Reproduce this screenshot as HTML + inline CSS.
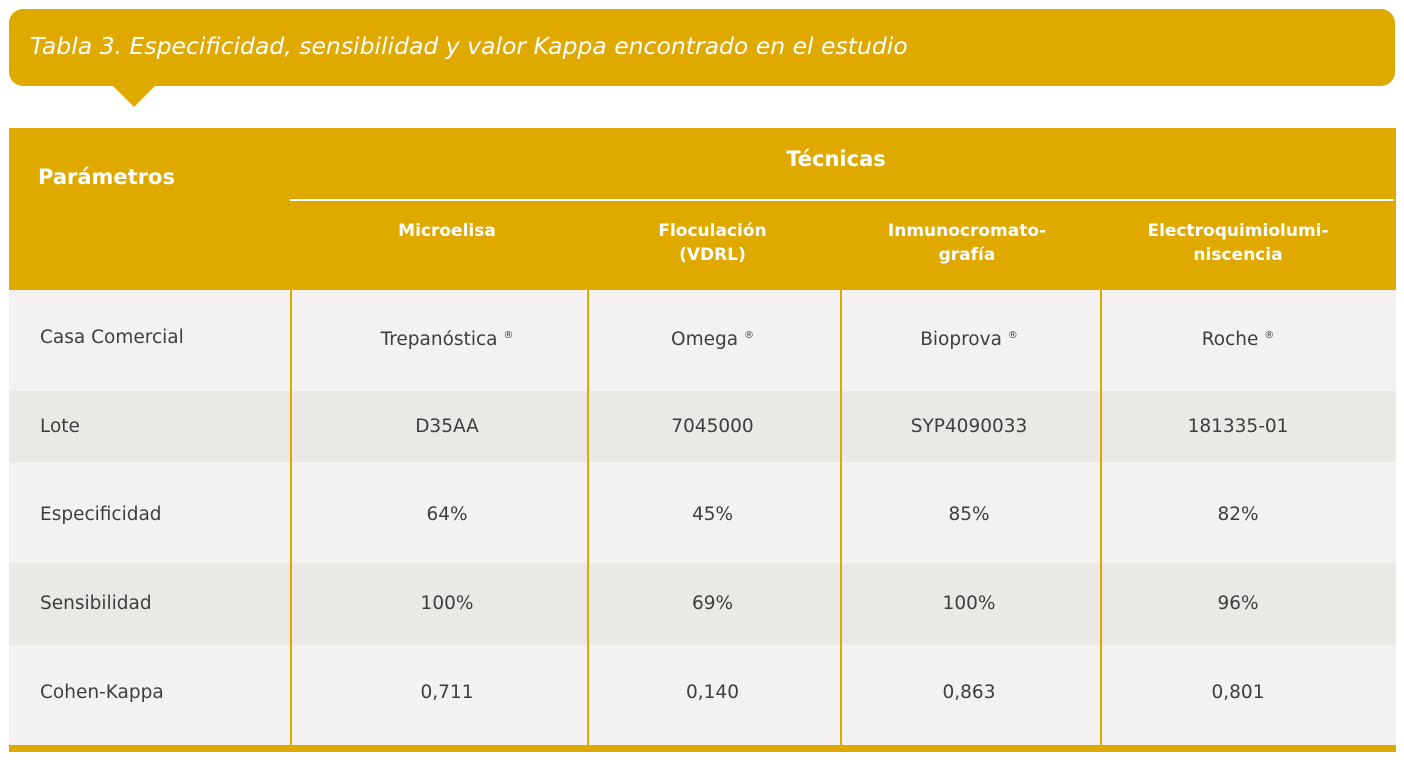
<!DOCTYPE html>
<html><head><meta charset="utf-8"><style>
body{margin:0;width:1404px;height:764px;background:#fff;position:relative;overflow:hidden;font-family:"DejaVu Sans","Liberation Sans",sans-serif;}
.a{position:absolute}
.t{position:absolute;color:#3e3e3e;font-size:18.5px;text-align:center;transform:translateY(-50%);line-height:24px}
.h{position:absolute;color:#fff;font-weight:bold;font-size:17px;text-align:center;line-height:24px;transform:translateY(-50%)}
.v{position:absolute;width:2px;background:#dfa900;top:290px;height:456px}
</style></head><body>
<div class="a" style="left:9px;top:9px;width:1386px;height:77px;background:#dfa900;border-radius:14px"></div>
<div class="a" style="left:113px;top:86px;width:0;height:0;border-left:21px solid transparent;border-right:21px solid transparent;border-top:21px solid #dfa900"></div>
<div class="a" style="left:30px;top:31px;color:#fff;font-style:italic;font-size:23.5px;line-height:30px">Tabla 3. Especificidad, sensibilidad y valor Kappa encontrado en el estudio</div>
<div class="a" style="left:9px;top:128px;width:1387px;height:162px;background:#dfa900"></div>
<div class="a" style="left:290px;top:199px;width:1104px;height:2px;background:#fff"></div>
<div class="h" style="left:38px;top:177px;font-size:21px;text-align:left">Parámetros</div>
<div class="h" style="left:291px;width:1090px;top:159px;font-size:21px">Técnicas</div>
<div class="h" style="left:297px;width:300px;top:231px">Microelisa</div>
<div class="h" style="left:588px;width:249px;top:243px">Floculación<br>(VDRL)</div>
<div class="h" style="left:841px;width:252px;top:243px">Inmunocromato-<br>grafía</div>
<div class="h" style="left:1101px;width:274px;top:243px">Electroquimiolumi-<br>niscencia</div>
<div class="a" style="left:9px;top:290px;width:1387px;height:101px;background:#f3f2f0"></div>
<div class="a" style="left:9px;top:391px;width:1387px;height:71px;background:#ebe9e6"></div>
<div class="a" style="left:9px;top:462px;width:1387px;height:101px;background:#f3f2f0"></div>
<div class="a" style="left:9px;top:563px;width:1387px;height:82px;background:#ebe9e6"></div>
<div class="a" style="left:9px;top:645px;width:1387px;height:100px;background:#f3f2f0"></div>
<div class="a" style="left:9px;top:745px;width:1387px;height:7px;background:#dfa900"></div>
<div class="v" style="left:290px"></div><div class="v" style="left:587px"></div><div class="v" style="left:840px"></div><div class="v" style="left:1100px"></div>
<div class="t" style="left:40px;top:338px;text-align:left">Casa Comercial</div>
<div class="t" style="left:40px;top:427px;text-align:left">Lote</div>
<div class="t" style="left:40px;top:515px;text-align:left">Especificidad</div>
<div class="t" style="left:40px;top:604px;text-align:left">Sensibilidad</div>
<div class="t" style="left:40px;top:693px;text-align:left">Cohen-Kappa</div>
<div class="t" style="left:297px;width:300px;top:338px">Trepanóstica <sup style="font-size:10px">®</sup></div>
<div class="t" style="left:588px;width:249px;top:338px">Omega <sup style="font-size:10px">®</sup></div>
<div class="t" style="left:841px;width:256px;top:338px">Bioprova <sup style="font-size:10px">®</sup></div>
<div class="t" style="left:1101px;width:274px;top:338px">Roche <sup style="font-size:10px">®</sup></div>
<div class="t" style="left:297px;width:300px;top:427px">D35AA</div>
<div class="t" style="left:588px;width:249px;top:427px">7045000</div>
<div class="t" style="left:841px;width:256px;top:427px">SYP4090033</div>
<div class="t" style="left:1101px;width:274px;top:427px">181335-01</div>
<div class="t" style="left:297px;width:300px;top:515px">64%</div>
<div class="t" style="left:588px;width:249px;top:515px">45%</div>
<div class="t" style="left:841px;width:256px;top:515px">85%</div>
<div class="t" style="left:1101px;width:274px;top:515px">82%</div>
<div class="t" style="left:297px;width:300px;top:604px">100%</div>
<div class="t" style="left:588px;width:249px;top:604px">69%</div>
<div class="t" style="left:841px;width:256px;top:604px">100%</div>
<div class="t" style="left:1101px;width:274px;top:604px">96%</div>
<div class="t" style="left:297px;width:300px;top:693px">0,711</div>
<div class="t" style="left:588px;width:249px;top:693px">0,140</div>
<div class="t" style="left:841px;width:256px;top:693px">0,863</div>
<div class="t" style="left:1101px;width:274px;top:693px">0,801</div>
</body></html>
